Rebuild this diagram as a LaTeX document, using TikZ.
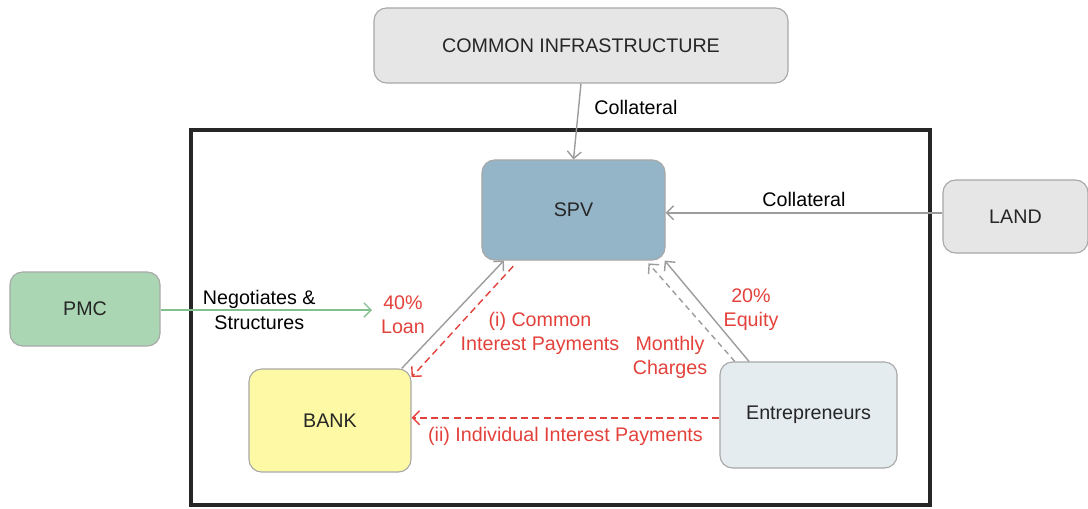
\documentclass[tikz,border=0pt]{standalone}
\usepackage{fontspec}
\setmainfont{Liberation Sans}
\usepackage{xcolor}
\usetikzlibrary{positioning,shapes,arrows.meta}

\definecolor{boxgray}{HTML}{E6E6E6}
\definecolor{edgegray}{HTML}{A8A8A8}
\definecolor{spvblue}{HTML}{94B5C7}
\definecolor{pmcgreen}{HTML}{AAD6B3}
\definecolor{bankyellow}{HTML}{FDF9A4}
\definecolor{entrblue}{HTML}{E4ECEF}
\definecolor{arrowgray}{HTML}{9C9C9C}
\definecolor{linkgreen}{HTML}{82C18E}
\definecolor{payred}{HTML}{E3413B}

\begin{document}
\begin{tikzpicture}[%Financing structure
  x=0.025cm, y=-0.025cm,
  font=\fontsize{14}{17.2}\selectfont,
  partynode/.style={rectangle, rounded corners=9pt, draw=edgegray, line width=0.8pt, text=black!85},
  labelnode/.style={align=center, inner sep=1pt},
  paylabel/.style={labelnode, text=payred},
  flow/.style={-{Straight Barb[length=5pt,width=10pt]}, line width=1pt, draw=arrowgray},
  payflow/.style={flow, draw=payred, dashed, dash pattern=on 5pt off 3pt}
]
\useasboundingbox (0,0) rectangle (1088,508);

%Frame
\draw[line width=2.6pt, black!85] (191,130) rectangle (930,505);

%Nodes
\node[partynode, fill=boxgray, minimum width=10.35cm, minimum height=1.875cm] (infra) at (581,45.5) {COMMON INFRASTRUCTURE};
\node[partynode, fill=spvblue, minimum width=4.575cm, minimum height=2.5cm] (spv) at (573.5,210) {SPV};
\node[partynode, fill=boxgray, minimum width=3.625cm, minimum height=1.825cm] (land) at (1015.5,216.5) {LAND};
\node[partynode, fill=pmcgreen, minimum width=3.75cm, minimum height=1.85cm] (pmc) at (85,309) {PMC};
\node[partynode, fill=bankyellow, minimum width=4.05cm, minimum height=2.575cm] (bank) at (330,420.5) {BANK};
\node[partynode, fill=entrblue, minimum width=4.425cm, minimum height=2.65cm] (entr) at (808.5,415) {Entrepreneurs};
\coordinate (pmcend) at (372,310);

%Labels
\node[labelnode] (collinfra) at (636,107) {Collateral};
\node[paylabel] (loan) at (403,315) {40\%\\Loan};
\node[paylabel] (common) at (540,333) {(i) Common\\Interest Payments};
\node[paylabel] (monthly) at (670,357) {Monthly\\Charges};
\node[paylabel] (equity) at (751,310) {20\%\\Equity};

%Arrows
\draw[flow] (infra.south) -- (spv.north);
\draw[flow] ([yshift=-2pt]land.west |- spv.east) -- node[labelnode, above=3pt] (collland) {Collateral} ([yshift=-2pt]spv.east);
\draw[flow, draw=linkgreen] (pmc.east |- pmcend) -- node[labelnode, xshift=-5pt] (negot) {Negotiates \&\\Structures} (pmcend);
\draw[flow] (bank.36) -- (spv.216);
\draw[payflow] ([yshift=-4pt]spv.220) -- (bank.28);
\draw[flow] (entr.138) -- (spv.331);
\draw[flow, dashed, dash pattern=on 4pt off 3pt] (entr.144) -- ([yshift=-2pt]spv.326);
\draw[payflow] ([yshift=-2pt]entr.west) -- node[paylabel, below=5pt] (indiv) {(ii) Individual Interest Payments} ([yshift=-2pt]entr.west -| bank.east);
\end{tikzpicture}
\end{document}
